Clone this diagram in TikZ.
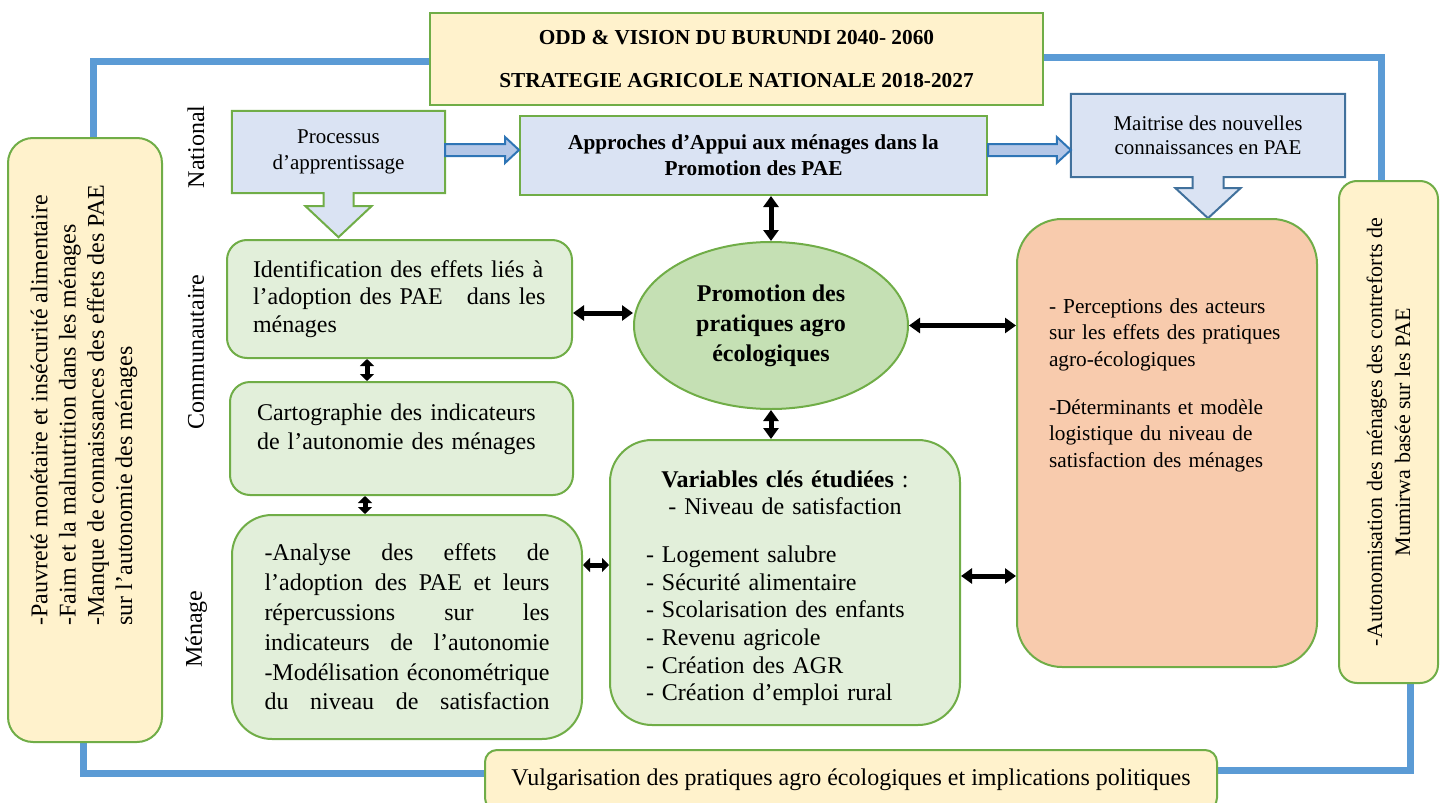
\documentclass[tikz,border=0pt]{standalone}
\usepackage{fontspec}
\setmainfont{Liberation Serif}
\usetikzlibrary{positioning,calc,arrows.meta,shapes.geometric,backgrounds}

\definecolor{boxyellow}{HTML}{FFF2CC}
\definecolor{boxgreen}{HTML}{E2EFDA}
\definecolor{boxblue}{HTML}{DAE3F3}
\definecolor{ellgreen}{HTML}{C5E0B4}
\definecolor{boxorange}{HTML}{F8CBAD}
\definecolor{edgegreen}{HTML}{70AD47}
\definecolor{edgeblue}{HTML}{41719C}
\definecolor{loopblue}{HTML}{5B9BD5}
\definecolor{arrowblue}{HTML}{B4C7E7}
\definecolor{arrowedge}{HTML}{2E75B6}

% justified line of the analysis box
\newcommand{\jline}[1]{\makebox[285pt][s]{\spaceskip=.25em plus 1fil\relax #1}}

\begin{document}
\begin{tikzpicture}[x=1pt,y=-1pt,
  every node/.style={font=\fontsize{24}{27.6}\selectfont,inner sep=0pt},
  yellowbox/.style={draw=edgegreen,line width=2pt,fill=boxyellow},
  greenbox/.style={draw=edgegreen,line width=2pt,fill=boxgreen},
  bluebox/.style={draw=edgegreen,line width=2pt,fill=boxblue},
  callout/.style={line width=2pt,fill=boxblue},
  level/.style={rotate=90},
  loopline/.style={loopblue,line width=7pt},
  dbl/.style={line width=5pt,{Triangle[length=11pt,width=15pt]}-{Triangle[length=11pt,width=15pt]}},
  dblshort/.style={line width=5pt,{Triangle[length=7pt,width=14pt]}-{Triangle[length=7pt,width=14pt]}},
  blockarrow/.style={draw=arrowedge,line width=2pt,fill=arrowblue}]
\useasboundingbox (0,0) rectangle (1444,803);

% Cadre strategique
\node[yellowbox,minimum width=613pt,minimum height=92pt,align=center,
      font=\fontsize{21.3}{27.6}\selectfont\bfseries] (odd) at (736.5,59)
      {ODD \& VISION DU BURUNDI 2040- 2060\\[16pt]STRATEGIE AGRICOLE NATIONALE 2018-2027};

% Problematique et objectif
\node[yellowbox,rounded corners=25pt,minimum width=154pt,minimum height=604pt] (pb) at (85,440) {};
\node[rotate=90,align=left,font=\fontsize{24}{28.3}\selectfont] (pbtext) at (84,405)
      {-Pauvreté monétaire et insécurité alimentaire\\-Faim et la malnutrition dans les ménages\\-Manque de connaissances des effets des PAE\\sur l’autonomie des ménages};
\node[yellowbox,rounded corners=18pt,rotate=90,minimum width=502pt,minimum height=99pt,align=center,
      font=\fontsize{22}{28}\selectfont] (obj) at (1388.5,432)
      {-Autonomisation des ménages des contreforts de\\Mumirwa basée sur les PAE};

% Niveaux
\node[level] (nat) at (196,147) {National};
\node[level] (com) at (196,352) {Communautaire};
\node[level] (men) at (196,629) {Ménage};

% Niveau national
\node[align=center,minimum width=213pt,minimum height=82pt,font=\fontsize{21}{26}\selectfont] (proc) at (338.5,152)
      {Processus\\d’apprentissage};
\node[bluebox,align=center,minimum width=467pt,minimum height=79pt,font=\fontsize{21.3}{26}\selectfont\bfseries] (appr) at (753.5,155.5)
      {Approches d’Appui aux ménages dans la\\Promotion des PAE};
\node[align=center,minimum width=274pt,minimum height=83pt,font=\fontsize{21}{24}\selectfont] (maitr) at (1208,135.5)
      {Maitrise des nouvelles\\connaissances en PAE};

% Niveau communautaire
\node[greenbox,rounded corners=20pt,align=left,text width=293pt,minimum width=345pt,minimum height=118pt] (ident) at (399.5,299)
      {Identification des effets liés à\\l’adoption des PAE\ \ \ dans les\\ménages};
\node[greenbox,rounded corners=20pt,align=left,text width=289pt,minimum width=343pt,minimum height=113pt,
      font=\fontsize{24}{29}\selectfont,text height=16pt,text depth=53pt] (carto) at (401.5,438.5)
      {Cartographie des indicateurs\\de l’autonomie des ménages};
\node[ellipse,draw=edgegreen,line width=2pt,fill=ellgreen,minimum width=274pt,minimum height=167pt,align=center,
      font=\fontsize{24}{30}\selectfont\bfseries] (promo) at (771,325.5)
      {Promotion des\\pratiques agro\\écologiques};

% Niveau menage
\node[greenbox,rounded corners=40pt,align=left,text width=285pt,minimum width=350pt,minimum height=224pt,
      font=\fontsize{24}{29.8}\selectfont] (anal) at (407,627)
      {\jline{-Analyse des effets de}\\ \jline{l’adoption des PAE et leurs}\\ \jline{répercussions sur les}\\
       \jline{indicateurs de l’autonomie}\\ \jline{-Modélisation économétrique}\\ \jline{du niveau de satisfaction}};
\node[greenbox,rounded corners=42pt,align=left,text width=278pt,minimum width=350pt,minimum height=285pt,
      font=\fontsize{24}{27.7}\selectfont,text height=17pt,text depth=208pt] (vars) at (785,582.5)
      {\makebox[278pt]{\textbf{Variables clés étudiées} :}\\ \makebox[278pt]{- Niveau de satisfaction}\\[20pt]
       - Logement salubre\\ - Sécurité alimentaire\\ - Scolarisation des enfants\\ - Revenu agricole\\
       - Création des AGR\\ - Création d’emploi rural};
\node[draw=edgegreen,line width=2pt,fill=boxorange,rounded corners=45pt,align=left,text width=236pt,
      minimum width=300pt,minimum height=448pt,text height=14pt,text depth=274pt,
      font=\fontsize{21.3}{26.7}\selectfont] (perc) at (1167,443)
      {- Perceptions des acteurs\\sur les effets des pratiques\\agro-écologiques\\[21pt]-Déterminants et modèle\\logistique du niveau de\\satisfaction des ménages};

% Vulgarisation
\node[yellowbox,rounded corners=12pt,minimum width=732pt,minimum height=60pt] (vulg) at (851,780)
      {Vulgarisation des pratiques agro écologiques et implications politiques};

\begin{scope}[on background layer]
  % boucle
  \coordinate (tl) at (93,61);
  \coordinate (tr) at (1381,57);
  \coordinate (br) at (1410,770);
  \coordinate (bl) at (83,773);
  \draw[loopline] (pb.north -| tl) -- (tl) -- (tl -| odd.west);
  \draw[loopline] (odd.east |- tr) -- (tr) -- (tr |- obj.east);
  \draw[loopline] (obj.west -| br) -- (br) -- (br -| vulg.east);
  \draw[loopline] (vulg.west |- bl) -- (bl) -- (bl |- pb.south);
  % fleches vers le bas
  \draw[callout,draw=edgegreen] (proc.north west) -- (proc.north east) -- (proc.south east)
    -- ($(proc.south)+(15,0)$) -- ($(proc.south)+(15,13)$) -- ($(proc.south)+(33,13)$)
    -- ($(proc.south)+(0,44)$) -- ($(proc.south)+(-33,13)$) -- ($(proc.south)+(-15,13)$)
    -- ($(proc.south)+(-15,0)$) -- (proc.south west) -- cycle;
  \draw[callout,draw=edgeblue] (maitr.north west) -- (maitr.north east) -- (maitr.south east)
    -- ($(maitr.south)+(15.5,0)$) -- ($(maitr.south)+(15.5,11)$) -- ($(maitr.south)+(32.5,11)$)
    -- ($(maitr.south)+(0,41)$) -- ($(maitr.south)+(-32.5,11)$) -- ($(maitr.south)+(-15.5,11)$)
    -- ($(maitr.south)+(-15.5,0)$) -- (maitr.south west) -- cycle;
\end{scope}

% fleches bleues
\foreach \a/\b in {proc/appr, appr/maitr} {
  \path (\a.east |- 0,150) coordinate (s) (\b.west |- 0,150) coordinate (e);
  \draw[blockarrow] ($(s)+(0,-6)$) -- ($(e)+(-14,-6)$) -- ($(e)+(-14,-13)$) -- (e)
    -- ($(e)+(-14,13)$) -- ($(e)+(-14,6)$) -- ($(s)+(0,6)$) -- cycle;
}

% liens
\draw[dbl] (appr.south -| promo.north) -- (promo.north);
\draw[dbl] (promo.south) -- (promo.south |- vars.north);
\draw[dbl] (ident.east |- 0,313) -- (promo.west |- 0,313);
\draw[dbl] (promo.east) -- (promo.east -| perc.west);
\draw[dblshort] (ident.south -| 367,0) -- (carto.north -| 367,0);
\draw[dblshort] (carto.south -| 365,0) -- (anal.north -| 365,0);
\draw[dblshort] (anal.east |- 0,565) -- (vars.west |- 0,565);
\draw[dbl] (vars.east |- 0,576) -- (perc.west |- 0,576);

\end{tikzpicture}
\end{document}
